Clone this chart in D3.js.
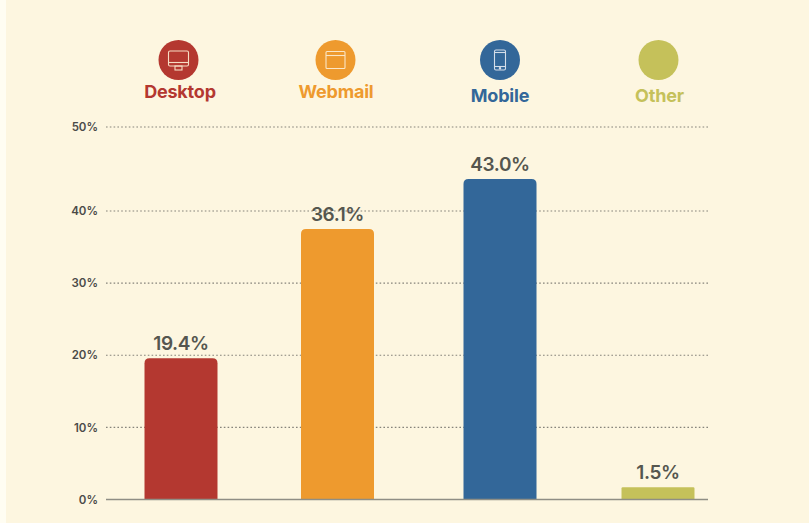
<!DOCTYPE html>
<html><head><meta charset="utf-8">
<script src="https://cdn.jsdelivr.net/npm/d3@7/dist/d3.min.js"></script>
<style>html,body{margin:0;padding:0;background:#fffdf2}svg{display:block}text{font-family:Inter,Lato,sans-serif}</style>
</head><body><div id="c"></div>
<script>
const categories=["Desktop","Webmail","Mobile","Other"];
const valueLabels=["19.4%","36.1%","43.0%","1.5%"];
// bar heights as drawn, read against the printed axis
const drawnValues=[19.6,37.5,43.8,1.7];
const colors=["#b43830","#ee9a2e","#336799","#c5c15a"];
const ticks=[0,10,20,30,40,50];
// the printed axis is uneven: 40%–50% is wider than the other steps
const axisKnots=[0,40,50];

const W=809,H=523;
const svg=d3.select("#c").append("svg").attr("width",W).attr("height",H);
svg.append("rect").attr("x",6).attr("width",W-6).attr("height",H).attr("fill","#fdf6e0");

const y=d3.scaleLinear().domain(axisKnots).range([499.5,211,127]);
const barX=d3.scaleOrdinal().domain(categories).range([181,337.5,500,658]);
const headX=d3.scaleOrdinal().domain(categories).range([178.5,335.5,500,658.5]);
const labelX=d3.scaleOrdinal().domain(categories).range([180,336,500,659.5]);
const labelY=d3.scaleOrdinal().domain(categories).range([98,98,102,101.5]);
const bw=73;

const axis=d3.axisLeft(y).tickValues(ticks).tickFormat(d=>d+"%").tickSize(0).tickPadding(8);
const g=svg.append("g").attr("transform","translate(106,0)").call(axis);
g.select(".domain").remove();
g.selectAll("text").attr("font-size",11.5).attr("font-weight",600).attr("fill","#4a4a48");

svg.selectAll(".grid").data(ticks.filter(d=>d>0)).join("line").attr("class","grid")
 .attr("x1",106).attr("x2",708).attr("y1",d=>y(d)).attr("y2",d=>y(d))
 .attr("stroke","#85837a").attr("stroke-width",1.2).attr("stroke-dasharray","1.6 2.2");

categories.forEach((c,i)=>{
  const cx=barX(c),x0=cx-bw/2, t=y(drawnValues[i]), b=y(0), r=Math.min(5,(b-t)/10);
  svg.append("path").attr("fill",colors[i])
   .attr("d",`M${x0},${b}V${t+r}Q${x0},${t} ${x0+r},${t}H${x0+bw-r}Q${x0+bw},${t} ${x0+bw},${t+r}V${b}Z`);
  svg.append("text").attr("x",cx).attr("y",t-8.5).attr("text-anchor","middle")
   .attr("font-size",19).attr("font-weight",600).attr("letter-spacing",-0.4).attr("fill","#55564f").text(valueLabels[i]);
});
svg.append("line").attr("x1",106).attr("x2",708).attr("y1",y(0)).attr("y2",y(0)).attr("stroke","#8f8e85").attr("stroke-width",1.4);

categories.forEach((c,i)=>{
  svg.append("circle").attr("cx",headX(c)).attr("cy",60).attr("r",20).attr("fill",colors[i]);
  svg.append("text").attr("x",labelX(c)).attr("y",labelY(c)).attr("text-anchor","middle")
   .attr("font-size",18).attr("font-weight",700).attr("letter-spacing",-0.2).attr("fill",colors[i]).text(c);
});
const d0=svg.append("g").attr("transform",`translate(${headX("Desktop")},60)`).attr("fill","none").attr("stroke","#f6dcc4").attr("stroke-width",1.1);
d0.append("rect").attr("x",-10).attr("y",-9).attr("width",20).attr("height",15).attr("rx",1.5);
d0.append("line").attr("x1",-10).attr("x2",10).attr("y1",2.5).attr("y2",2.5);
d0.append("rect").attr("x",-3.5).attr("y",6).attr("width",7).attr("height",4);
const d1=svg.append("g").attr("transform",`translate(${headX("Webmail")},60)`).attr("fill","none").attr("stroke","#fbe6c6").attr("stroke-width",1.1);
d1.append("rect").attr("x",-9.5).attr("y",-8.5).attr("width",19).attr("height",17).attr("rx",1);
d1.append("line").attr("x1",-9.5).attr("x2",9.5).attr("y1",-4.5).attr("y2",-4.5);
const d2=svg.append("g").attr("transform",`translate(${headX("Mobile")},60)`).attr("fill","none").attr("stroke","#d5deea").attr("stroke-width",1.1);
d2.append("rect").attr("x",-5.5).attr("y",-10).attr("width",11).attr("height",20).attr("rx",1.5);
d2.append("line").attr("x1",-5.5).attr("x2",5.5).attr("y1",-7.5).attr("y2",-7.5);
d2.append("line").attr("x1",-5.5).attr("x2",5.5).attr("y1",6.5).attr("y2",6.5);
d2.append("circle").attr("cx",0).attr("cy",8.3).attr("r",0.7).attr("fill","#d5deea");
</script></body></html>
